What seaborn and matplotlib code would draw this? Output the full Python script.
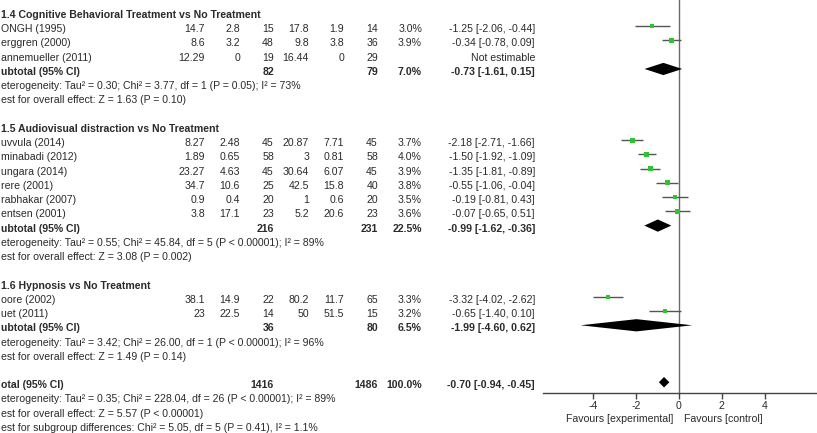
import numpy as np
import pandas as pd
import seaborn as sns
import matplotlib
matplotlib.use("Agg")
import matplotlib.pyplot as plt
from matplotlib.transforms import blended_transform_factory

sns.set_style("white")
plt.rcParams['font.family'] = ['Liberation Sans', 'DejaVu Sans']
plt.rcParams['axes.unicode_minus'] = False

# ---- data ----
groups = ["1.4 Cognitive Behavioral Treatment vs No Treatment",
          "1.5 Audiovisual distraction vs No Treatment",
          "1.6 Hypnosis vs No Treatment"]
study_group = [0, 0, 0, 1, 1, 1, 1, 1, 1, 2, 2]
studies = ["ONGH (1995)", "erggren (2000)", "annemueller (2011)",
           "uvvula (2014)", "minabadi (2012)", "ungara (2014)", "rere (2001)",
           "rabhakar (2007)", "entsen (2001)",
           "oore (2002)", "uet (2011)"]
exp_mean = [14.7, 8.6, 12.29, 8.27, 1.89, 23.27, 34.7, 0.9, 3.8, 38.1, 23]
exp_sd = [2.8, 3.2, 0, 2.48, 0.65, 4.63, 10.6, 0.4, 17.1, 14.9, 22.5]
exp_n = [15, 48, 19, 45, 58, 45, 25, 20, 23, 22, 14]
ctl_mean = [17.8, 9.8, 16.44, 20.87, 3, 30.64, 42.5, 1, 5.2, 80.2, 50]
ctl_sd = [1.9, 3.8, 0, 7.71, 0.81, 6.07, 15.8, 0.6, 20.6, 11.7, 51.5]
ctl_n = [14, 36, 29, 45, 58, 45, 40, 20, 23, 65, 15]
weight = [3.0, 3.9, np.nan, 3.7, 4.0, 3.9, 3.8, 3.5, 3.6, 3.3, 3.2]
est = [-1.25, -0.34, np.nan, -2.18, -1.50, -1.35, -0.55, -0.19, -0.07, -3.32, -0.65]
ci_lo = [-2.06, -0.78, np.nan, -2.71, -1.92, -1.81, -1.06, -0.81, -0.65, -4.02, -1.40]
ci_hi = [-0.44, 0.09, np.nan, -1.66, -1.09, -0.89, -0.04, 0.43, 0.51, -2.62, 0.10]

sub_exp_n = [82, 216, 36]
sub_ctl_n = [79, 231, 80]
sub_weight = [7.0, 22.5, 6.5]
sub_est = [-0.73, -0.99, -1.99]
sub_lo = [-1.61, -1.62, -4.60]
sub_hi = [0.15, -0.36, 0.62]
sub_het = ["eterogeneity: Tau\u00b2 = 0.30; Chi\u00b2 = 3.77, df = 1 (P = 0.05); I\u00b2 = 73%",
           "eterogeneity: Tau\u00b2 = 0.55; Chi\u00b2 = 45.84, df = 5 (P < 0.00001); I\u00b2 = 89%",
           "eterogeneity: Tau\u00b2 = 3.42; Chi\u00b2 = 26.00, df = 1 (P < 0.00001); I\u00b2 = 96%"]
sub_test = ["est for overall effect: Z = 1.63 (P = 0.10)",
            "est for overall effect: Z = 3.08 (P = 0.002)",
            "est for overall effect: Z = 1.49 (P = 0.14)"]

tot_exp_n, tot_ctl_n, tot_weight = 1416, 1486, 100.0
tot_est, tot_lo, tot_hi = -0.70, -0.94, -0.45
tot_lines = ["eterogeneity: Tau\u00b2 = 0.35; Chi\u00b2 = 228.04, df = 26 (P < 0.00001); I\u00b2 = 89%",
             "est for overall effect: Z = 5.57 (P < 0.00001)",
             "est for subgroup differences: Chi\u00b2 = 5.05, df = 5 (P = 0.41), I\u00b2 = 1.1%"]

xticks = [-4, -2, 0, 2, 4]

# ---- layout ----
W, H = 817, 433
ROW0, ROWH = 15.0, 14.24     # pixel centre of first row, row pitch
MARK0 = 12.0                 # marks sit slightly above the text centre
AX_L, AX_B, ZERO_X, PX_UNIT = 543, 393, 679, 21.4
cols = [205, 240, 274, 309, 344, 378, 422, 535]
TXT = '#2a2a2a'
FS = 7.6

# row numbers
rows, sub_rows, head_rows = [], [], []
r = 0
for g in range(len(groups)):
    head_rows.append(r)
    r += 1
    for i, sg in enumerate(study_group):
        if sg == g:
            rows.append(r)
            r += 1
    sub_rows.append(r)
    r += 4
tot_row = r

df = pd.DataFrame({'row': rows, 'est': est, 'lo': ci_lo, 'hi': ci_hi, 'weight': weight})

fig = plt.figure(figsize=(W / 100, H / 100), dpi=100)

# table text
tab = fig.add_axes([0, 0, 1, 1])
tab.set_xlim(0, W)
tab.set_ylim((H - ROW0) / ROWH, -ROW0 / ROWH)
tab.axis('off')

def put(x, y, s, ha='right', bold=False):
    tab.text(x, y, s, ha=ha, va='center', fontsize=FS, color=TXT,
             fontweight='bold' if bold else 'normal')

fmt = lambda v: f"{v:g}"
for g, name in enumerate(groups):
    put(1, head_rows[g], name, ha='left', bold=True)
for i, rr in enumerate(rows):
    put(1, rr, studies[i], ha='left')
    vals = [fmt(exp_mean[i]), fmt(exp_sd[i]), str(exp_n[i]),
            fmt(ctl_mean[i]), fmt(ctl_sd[i]), str(ctl_n[i])]
    for x, v in zip(cols[:6], vals):
        put(x, rr, v)
    if np.isnan(weight[i]):
        put(cols[7], rr, "Not estimable")
    else:
        put(cols[6], rr, f"{weight[i]:.1f}%")
        put(cols[7], rr, f"{est[i]:.2f} [{ci_lo[i]:.2f}, {ci_hi[i]:.2f}]")
for g, rr in enumerate(sub_rows):
    put(1, rr, "ubtotal (95% CI)", ha='left', bold=True)
    put(cols[2], rr, str(sub_exp_n[g]), bold=True)
    put(cols[5], rr, str(sub_ctl_n[g]), bold=True)
    put(cols[6], rr, f"{sub_weight[g]:.1f}%", bold=True)
    put(cols[7], rr, f"{sub_est[g]:.2f} [{sub_lo[g]:.2f}, {sub_hi[g]:.2f}]", bold=True)
    put(1, rr + 1, sub_het[g], ha='left')
    put(1, rr + 2, sub_test[g], ha='left')
put(1, tot_row, "otal (95% CI)", ha='left', bold=True)
put(cols[2], tot_row, str(tot_exp_n), bold=True)
put(cols[5], tot_row, str(tot_ctl_n), bold=True)
put(cols[6], tot_row, f"{tot_weight:.1f}%", bold=True)
put(cols[7], tot_row, f"{tot_est:.2f} [{tot_lo:.2f}, {tot_hi:.2f}]", bold=True)
for k, line in enumerate(tot_lines):
    put(1, tot_row + 1 + k, line, ha='left')

# forest panel
ax = fig.add_axes([AX_L / W, 1 - AX_B / H, 1 - AX_L / W, AX_B / H])
ax.set_xlim((AX_L - ZERO_X) / PX_UNIT, (W - ZERO_X) / PX_UNIT)
ax.set_ylim((AX_B - MARK0) / ROWH, -MARK0 / ROWH)
ax.axvline(0, color='#6a6a6a', lw=1, zorder=1)

ok = df.dropna()
ax.hlines(ok['row'], ok['lo'], ok['hi'], color='#555555', lw=1, zorder=2)
sns.scatterplot(data=ok, x='est', y='row', size='weight', sizes=(9, 13),
                size_norm=(3.0, 4.0), marker='s', color='#2fc42f',
                edgecolor='none', legend=False, ax=ax, zorder=3)

hh = 0.43
for g, rr in enumerate(sub_rows):
    ax.fill([sub_lo[g], sub_est[g], sub_hi[g], sub_est[g]],
            [rr, rr - hh, rr, rr + hh], color='black', lw=0, zorder=4)
ax.fill([tot_lo, tot_est, tot_hi, tot_est],
        [tot_row, tot_row - 0.37, tot_row, tot_row + 0.37], color='black', lw=0, zorder=4)

for s in ['top', 'left', 'right']:
    ax.spines[s].set_visible(False)
ax.spines['bottom'].set_color('#444444')
ax.spines['bottom'].set_linewidth(1)
ax.set_yticks([])
ax.set_xticks(xticks)
ax.set_xticklabels([str(t) for t in xticks])
ax.tick_params(axis='x', bottom=True, length=4, width=1, color='#444444',
               labelsize=FS, labelcolor=TXT, pad=2, direction='out')
ax.set_xlabel('')
ax.set_ylabel('')
ax.patch.set_alpha(0)

tr = blended_transform_factory(ax.transData, ax.transAxes)
ax.text(-0.28, -26 / AX_B, "Favours [experimental]", transform=tr, ha='right',
        va='center', fontsize=FS, color=TXT)
ax.text(0.23, -26 / AX_B, "Favours [control]", transform=tr, ha='left',
        va='center', fontsize=FS, color=TXT)

fig.savefig("out.png", dpi=100)
